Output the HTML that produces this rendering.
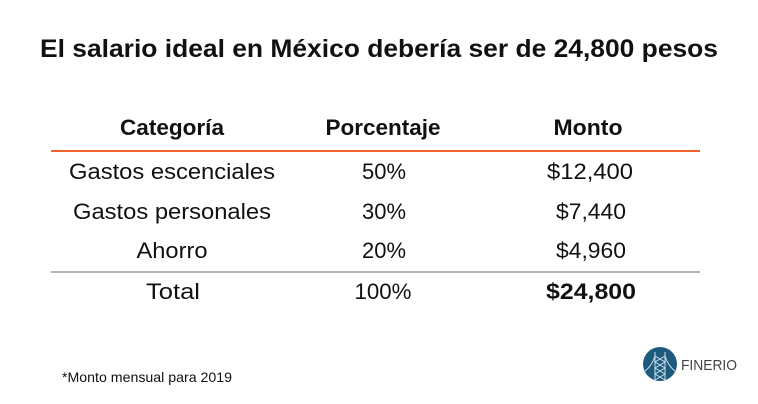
<!DOCTYPE html>
<html><head><meta charset="utf-8"><style>
html,body{margin:0;padding:0;background:#fff;}
svg{display:block;font-family:"Liberation Sans",sans-serif;}
</style></head><body>
<svg width="758" height="404" viewBox="0 0 758 404">
<text x="379" y="57" text-anchor="middle" font-size="25" font-weight="bold" fill="#111" textLength="678" lengthAdjust="spacingAndGlyphs">El salario ideal en México debería ser de 24,800 pesos</text>
<g font-size="22" fill="#111" text-anchor="middle" lengthAdjust="spacingAndGlyphs">
<text x="172" y="135" font-weight="bold" textLength="104" lengthAdjust="spacingAndGlyphs">Categoría</text>
<text x="383" y="135" font-weight="bold" textLength="115" lengthAdjust="spacingAndGlyphs">Porcentaje</text>
<text x="588" y="135" font-weight="bold" textLength="69" lengthAdjust="spacingAndGlyphs">Monto</text>
<line x1="51" y1="151" x2="700" y2="151" stroke="#f2622e" stroke-width="2"/>
<text x="172" y="179" textLength="206" lengthAdjust="spacingAndGlyphs">Gastos escenciales</text>
<text x="384" y="179" textLength="44" lengthAdjust="spacingAndGlyphs">50%</text>
<text x="590" y="179" textLength="86" lengthAdjust="spacingAndGlyphs">$12,400</text>
<text x="172" y="219" textLength="198" lengthAdjust="spacingAndGlyphs">Gastos personales</text>
<text x="384" y="219" textLength="44" lengthAdjust="spacingAndGlyphs">30%</text>
<text x="591" y="219" textLength="70" lengthAdjust="spacingAndGlyphs">$7,440</text>
<text x="172" y="258" textLength="71" lengthAdjust="spacingAndGlyphs">Ahorro</text>
<text x="384" y="258" textLength="44" lengthAdjust="spacingAndGlyphs">20%</text>
<text x="591" y="258" textLength="70" lengthAdjust="spacingAndGlyphs">$4,960</text>
<line x1="51" y1="272" x2="700" y2="272" stroke="#888" stroke-width="1.3"/>
<text x="173" y="299" textLength="54" lengthAdjust="spacingAndGlyphs">Total</text>
<text x="383" y="299" textLength="57" lengthAdjust="spacingAndGlyphs">100%</text>
<text x="591" y="299" font-weight="bold" textLength="90" lengthAdjust="spacingAndGlyphs">$24,800</text>
</g>
<text x="62" y="382" font-size="14" fill="#111" textLength="170" lengthAdjust="spacingAndGlyphs">*Monto mensual para 2019</text>
<g>
<circle cx="660" cy="364" r="17" fill="#1d5a7e"/>
<path d="M655 352 L655 381 M665 352 L665 381 M655 356 L665 362 L655 368 L665 374 L655 380 M665 356 L655 362 L665 368 L655 374 L665 380 M644 372 Q652 366 655 356 M676 372 Q668 366 665 356" stroke="#cfe0ea" stroke-width="1" fill="none"/>
<text x="681" y="370" font-size="15" fill="#444" textLength="56" lengthAdjust="spacingAndGlyphs">FINERIO</text>
</g>
</svg>
</body></html>
